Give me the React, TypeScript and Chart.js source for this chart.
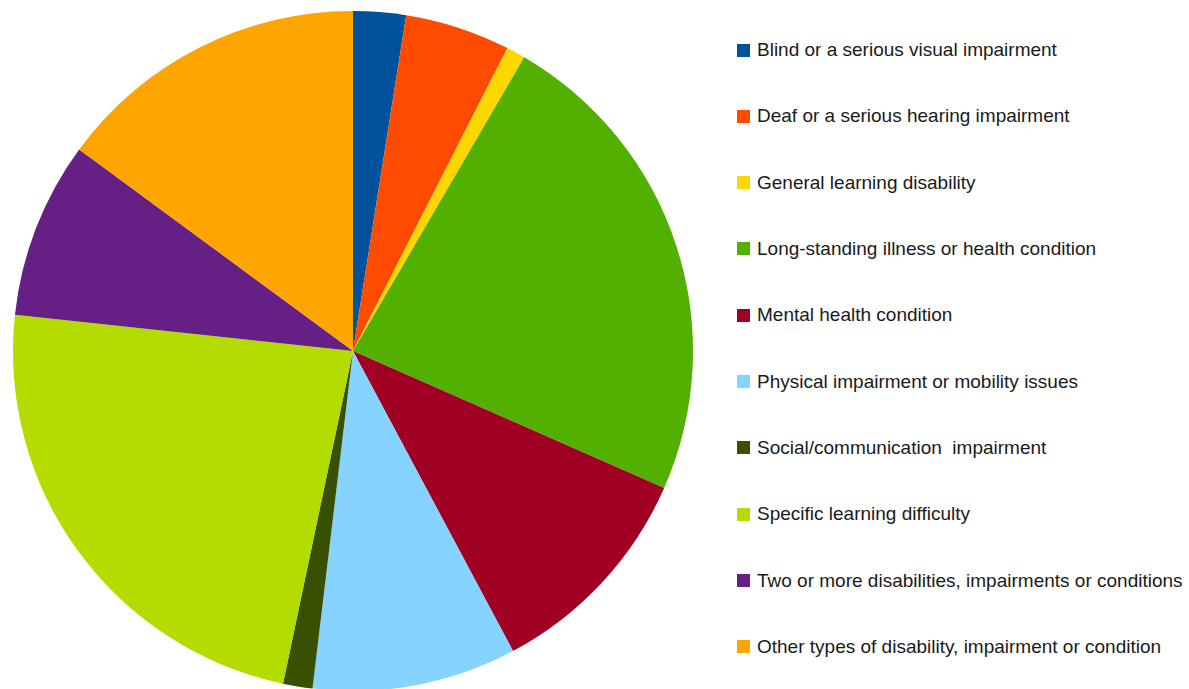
import React, { useEffect, useRef } from "react";
import { Chart, registerables } from "chart.js";

Chart.register(...registerables);

const categories: string[] = [
  "Blind or a serious visual impairment",
  "Deaf or a serious hearing impairment",
  "General learning disability",
  "Long-standing illness or health condition",
  "Mental health condition",
  "Physical impairment or mobility issues",
  "Social/communication  impairment",
  "Specific learning difficulty",
  "Two or more disabilities, impairments or conditions",
  "Other types of disability, impairment or condition",
];

const shares: number[] = [2.5, 5.0, 0.9, 23.2, 10.6, 9.7, 1.4, 23.4, 8.4, 14.9];

const colors: string[] = [
  "#00529c",
  "#ff4b00",
  "#ffd700",
  "#52b000",
  "#a00024",
  "#87d3ff",
  "#385000",
  "#b4dc00",
  "#661f85",
  "#ffa500",
];

export default function App() {
  const canvasRef = useRef<HTMLCanvasElement | null>(null);

  useEffect(() => {
    if (!canvasRef.current) return;
    const chart = new Chart(canvasRef.current, {
      type: "pie",
      data: {
        labels: categories,
        datasets: [
          {
            data: shares,
            backgroundColor: colors,
            borderWidth: 0,
          },
        ],
      },
      options: {
        responsive: false,
        animation: false,
        layout: { padding: { left: 13, right: 13, top: 11, bottom: 11 } },
        plugins: {
          legend: { display: false },
          tooltip: { enabled: false },
        },
      },
    });
    return () => chart.destroy();
  }, []);

  return (
    <div
      style={{
        position: "fixed",
        left: 0,
        top: 0,
        width: 1189,
        height: 689,
        overflow: "hidden",
        background: "#ffffff",
      }}
    >
      <canvas
        ref={canvasRef}
        width={706}
        height={702}
        style={{ position: "absolute", left: 0, top: 0, width: 706, height: 702 }}
      />
      {categories.map((label, i) => (
        <div
          key={label}
          style={{
            position: "absolute",
            left: 737,
            top: 50 + i * 66.33 - 12,
            height: 24,
            display: "flex",
            alignItems: "center",
            whiteSpace: "pre",
            fontFamily: '"Liberation Sans", Arial, sans-serif',
            fontSize: 19,
            color: "#1a1a1a",
          }}
        >
          <span
            style={{
              display: "inline-block",
              width: 13,
              height: 13,
              background: colors[i],
              marginRight: 7,
            }}
          />
          <span>{label}</span>
        </div>
      ))}
    </div>
  );
}
